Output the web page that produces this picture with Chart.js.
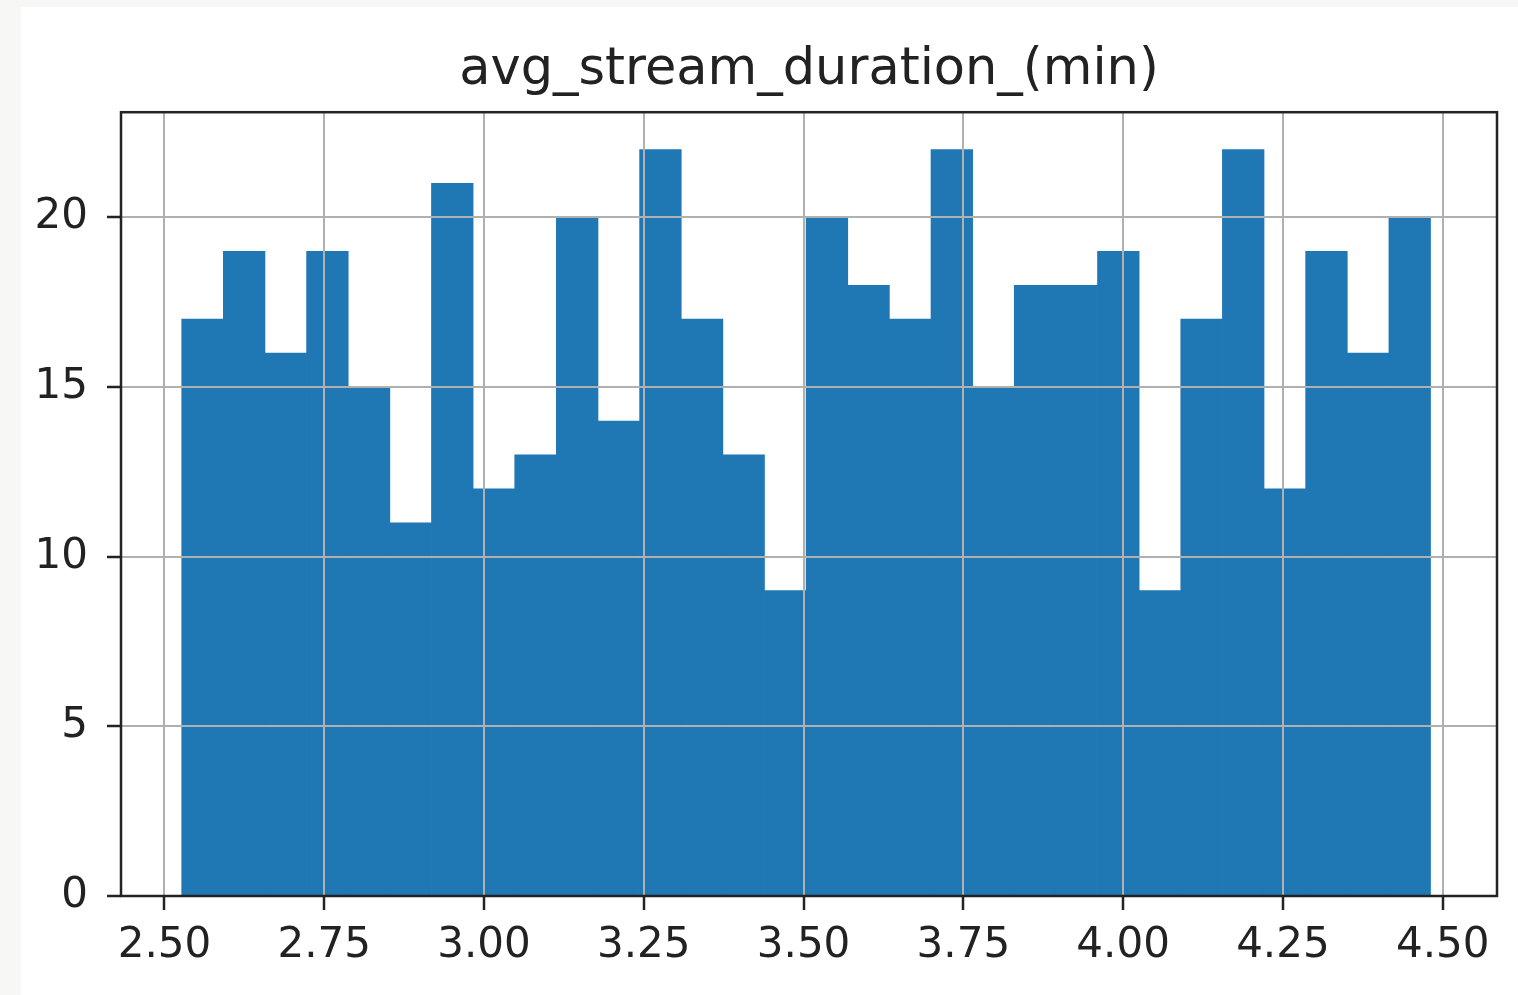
<!DOCTYPE html>
<html lang="en">
<head>
  <meta charset="UTF-8" />
  <title>avg_stream_duration_(min)</title>
  <style>
    body {
      margin: 0;
      background: #f7f7f5;
      overflow: hidden;
    }
    #panel {
      position: absolute;
      left: 21px;
      top: 7px;
      width: 1497px;
      height: 988px;
      background: #fff;
    }
  </style>
  <script src="https://cdn.jsdelivr.net/npm/chart.js"></script>
</head>
<body>
  <div id="panel">
    <canvas id="histChart"></canvas>
  </div>

  <script>
    // histogram: 30 equal bins between binMin and binMax
    const binMin = 2.527;
    const binMax = 4.481;
    const counts = [17, 19, 16, 19, 15, 11, 21, 12, 13, 20,
                    14, 22, 17, 13, 9, 20, 18, 17, 22, 15,
                    18, 18, 19, 9, 17, 22, 12, 19, 16, 20];
    const xTicks = [2.50, 2.75, 3.00, 3.25, 3.50, 3.75, 4.00, 4.25, 4.50];
    const yTicks = [0, 5, 10, 15, 20];
    const xRange = [2.432, 4.585];
    const yRange = [0, 23.1];

    const binWidth = (binMax - binMin) / counts.length;
    const points = counts.map((c, i) => ({ x: binMin + (i + 0.5) * binWidth, y: c }));

    const FONT = "'DejaVu Sans', 'Liberation Sans', sans-serif";
    const INK = '#222';

    // frame on all four sides, drawn over the bars and grid
    const spines = {
      id: 'spines',
      afterDraw(chart) {
        const { ctx, chartArea: a } = chart;
        ctx.save();
        ctx.strokeStyle = INK;
        ctx.lineWidth = 2.5;
        ctx.strokeRect(a.left, a.top, a.right - a.left, a.bottom - a.top);
        ctx.restore();
      }
    };

    new Chart(document.getElementById('histChart'), {
      type: 'bar',
      data: {
        datasets: [{
          data: points,
          backgroundColor: '#1f77b4',
          borderWidth: 0,
          barPercentage: 1.0,
          categoryPercentage: 1.0
        }]
      },
      options: {
        responsive: true,
        maintainAspectRatio: false,
        animation: false,
        layout: { padding: { left: 0, right: 21, top: 0, bottom: 0 } },
        plugins: {
          legend: { display: false },
          tooltip: { enabled: false },
          title: {
            display: true,
            fullSize: false,
            text: 'avg_stream_duration_(min)',
            color: INK,
            font: { family: FONT, size: 51, weight: 'normal', lineHeight: 1.2 },
            padding: { top: 33, bottom: 11 }
          }
        },
        scales: {
          x: {
            type: 'linear',
            min: xRange[0],
            max: xRange[1],
            offset: false,
            afterBuildTicks: s => { s.ticks = xTicks.map(v => ({ value: v })); },
            afterFit: s => { s.height = 99; },
            ticks: {
              color: INK,
              font: { family: FONT, size: 42 },
              padding: 11,
              maxRotation: 0,
              autoSkip: false,
              callback: v => Number(v).toFixed(2)
            },
            grid: {
              offset: false,
              z: 1,
              color: '#b0b0b0',
              lineWidth: 2,
              drawTicks: true,
              tickLength: 14,
              tickColor: INK,
              tickWidth: 2.5
            },
            border: { display: false }
          },
          y: {
            min: yRange[0],
            max: yRange[1],
            afterBuildTicks: s => { s.ticks = yTicks.map(v => ({ value: v })); },
            afterFit: s => { s.width = 100; },
            ticks: {
              color: INK,
              font: { family: FONT, size: 42 },
              padding: 19
            },
            grid: {
              z: 1,
              color: '#b0b0b0',
              lineWidth: 2,
              drawTicks: true,
              tickLength: 14,
              tickColor: INK,
              tickWidth: 2.5
            },
            border: { display: false }
          }
        }
      },
      plugins: [spines]
    });
  </script>
</body>
</html>
